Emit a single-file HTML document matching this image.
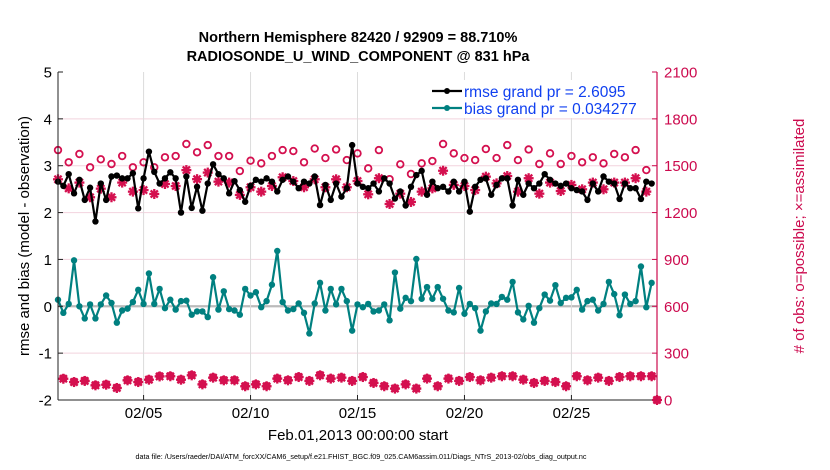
<!DOCTYPE html>
<html><head><meta charset="utf-8"><style>
body{margin:0;background:#fff;width:830px;height:470px;overflow:hidden}
svg{display:block;font-family:"Liberation Sans",sans-serif}
</style></head><body>
<svg id="chart" width="830" height="470" viewBox="0 0 830 470" xmlns="http://www.w3.org/2000/svg">
<g id="grid"></g>
<g id="series"></g>
<g id="axes"></g>
<text x="358" y="42" text-anchor="middle" font-size="14.5" font-weight="bold">Northern Hemisphere 82420 / 92909 = 88.710%</text>
<text x="358" y="61" text-anchor="middle" font-size="14.5" font-weight="bold">RADIOSONDE_U_WIND_COMPONENT @ 831 hPa</text>
<text transform="translate(29,236) rotate(-90)" text-anchor="middle" font-size="15">rmse and bias (model - observation)</text>
<text transform="translate(804,236) rotate(-90)" text-anchor="middle" font-size="15" fill="#cc0a4e"># of obs: o=possible; ×=assimilated</text>
<text x="358" y="440" text-anchor="middle" font-size="15">Feb.01,2013 00:00:00 start</text>
<text x="361" y="459" text-anchor="middle" font-size="7.2">data file: /Users/raeder/DAI/ATM_forcXX/CAM6_setup/f.e21.FHIST_BGC.f09_025.CAM6assim.011/Diags_NTrS_2013-02/obs_diag_output.nc</text>
<g id="legend">
<rect x="425" y="80" width="225" height="38" fill="#fff"/>
<g>
<line x1="432" y1="91" x2="462" y2="91" stroke="#000" stroke-width="2.2"/><circle cx="447" cy="91" r="3" fill="#000"/>
<text x="464" y="97" font-size="15.5" fill="#1040f0">rmse grand pr = 2.6095</text></g>
<g>
<line x1="432" y1="108" x2="462" y2="108" stroke="#008080" stroke-width="2.2"/><circle cx="447" cy="108" r="3" fill="#008080"/>
<text x="464" y="114" font-size="15.5" fill="#1040f0">bias grand pr = 0.034277</text></g>
</g>
</svg>
<script>
// ---- data (6-hourly from Feb 1 00Z) ----
const xTickDays = [5, 10, 15, 20, 25];
const xTickLabels = ["02/05", "02/10", "02/15", "02/20", "02/25"];
const leftTicks = [-2, -1, 0, 1, 2, 3, 4, 5];
const rightTicks = [0, 300, 600, 900, 1200, 1500, 1800, 2100];
const rmse = [2.66,2.57,2.82,2.41,2.70,2.27,2.53,1.81,2.62,2.27,2.77,2.79,2.73,2.73,2.84,2.09,2.73,3.30,2.87,2.62,2.73,2.86,2.73,2.00,2.77,2.10,2.55,2.04,2.62,3.03,
2.82,2.73,2.41,2.67,2.48,2.23,2.57,2.70,2.66,2.73,2.66,2.45,2.70,2.77,2.66,2.52,2.66,2.62,2.77,2.16,2.59,2.27,2.62,2.34,2.52,3.44,2.62,2.55,
2.52,2.62,2.45,2.73,2.62,2.30,2.45,2.15,2.55,2.80,2.89,2.38,2.66,2.52,2.55,2.45,2.66,2.45,2.66,2.02,2.55,2.70,2.73,2.38,2.59,2.73,2.73,2.15,
2.70,2.38,2.62,2.52,2.62,2.82,2.70,2.62,2.57,2.62,2.52,2.48,2.45,2.27,2.62,2.45,2.77,2.66,2.62,2.29,2.62,2.52,2.52,2.29,2.66,2.62];
const bias = [0.14,-0.14,0.05,0.98,0.00,-0.26,0.04,-0.26,0.04,0.23,0.07,-0.35,-0.09,-0.05,0.09,0.35,0.05,0.70,0.05,0.37,-0.04,0.14,-0.07,0.11,0.12,-0.18,-0.11,-0.11,-0.23,0.62,
-0.07,0.32,-0.06,-0.09,-0.18,0.37,0.23,0.30,-0.02,0.11,0.46,1.18,0.09,-0.09,-0.06,0.06,-0.14,-0.58,0.06,0.50,-0.09,0.37,0.04,0.37,0.11,-0.52,0.04,-0.02,
0.05,-0.11,-0.09,0.04,-0.30,0.72,-0.05,0.18,0.11,1.01,0.16,0.41,0.16,0.41,0.16,-0.09,-0.13,0.39,-0.16,0.05,-0.04,-0.52,-0.11,0.06,0.05,0.20,0.14,0.52,
-0.13,-0.28,0.01,-0.35,-0.04,0.25,0.12,0.45,0.07,0.18,0.19,0.35,-0.07,0.11,0.14,-0.09,0.05,0.52,0.26,-0.19,0.25,0.05,0.11,0.85,-0.02,0.50];
// obs counts at 00Z/12Z (even steps, incl. final step) and at 06Z/18Z (odd steps)
const possibleMain = [1600,1522,1575,1490,1541,1511,1562,1490,1522,1490,1554,1562,1639,1586,1632,
1562,1562,1466,1532,1515,1562,1600,1594,1522,1610,1549,1604,1536,1579,
1483,1600,1414,1509,1447,1515,1530,1639,1579,1549,1536,1607,1549,1632,
1536,1604,1511,1579,1511,1562,1522,1554,1515,1575,1554,1600,1472,0];
const assimMain = [1413,1355,1392,1298,1353,1298,1392,1334,1344,1319,1383,1370,1472,1414,1456,
1398,1392,1313,1362,1334,1370,1426,1402,1362,1413,1362,1413,1362,1402,
1317,1420,1255,1321,1268,1334,1355,1468,1377,1370,1344,1430,1387,1434,
1334,1420,1321,1392,1338,1377,1349,1392,1349,1392,1392,1420,1334,0];
const possibleOff = [139,117,124,96,100,79,128,117,132,154,154,132,160,102,145,128,128,90,
102,90,139,128,149,124,160,139,145,124,149,111,90,75,102,75,139,90,139,124,
149,128,145,154,154,132,111,124,117,90,154,128,145,124,149,154,154,154];
const assimOff = [136,115,122,94,98,77,126,115,130,151,152,130,158,100,143,126,126,88,
100,88,137,126,147,122,158,137,143,122,147,109,88,73,100,73,137,88,137,122,
147,126,143,152,152,130,109,122,115,88,152,126,143,122,147,152,152,152];

// ---- scales ----
const X0 = 58, X1 = 657, YT = 72, YB = 400;
const xOfStep = i => X0 + (i * 0.25) * (X1 - X0) / 28;
const xOfDay = d => X0 + (d - 1) * (X1 - X0) / 28;
const yL = v => YB - (v + 2) * (YB - YT) / 7;
const yR = c => YB - c * (YB - YT) / 2100;
const NS = "http://www.w3.org/2000/svg";
function mk(tag, attrs, parent) { const e = document.createElementNS(NS, tag); for (const k in attrs) e.setAttribute(k, attrs[k]); parent.appendChild(e); return e; }
const grid = document.getElementById('grid'), ser = document.getElementById('series'), ax = document.getElementById('axes');

mk('rect', {x: X0, y: YT, width: X1 - X0, height: YB - YT, fill: '#fff'}, grid);
leftTicks.forEach(v => {
  if (v === -2 || v === 5) return;
  const l = mk('line', {x1: X0, x2: X1, y1: yL(v), y2: yL(v), stroke: v === 0 ? '#bbbbbb' : '#f2d3de', 'stroke-width': v === 0 ? 2.2 : 1}, grid);
  
  
});
xTickDays.forEach(d => {
  const l = mk('line', {x1: xOfDay(d), x2: xOfDay(d), y1: YT, y2: YB, stroke: '#dcdcdc', 'stroke-width': 1}, grid);
  
  
});

// obs markers
function star(x, y, parent) {
  const g = mk('g', {stroke: '#d4104f', 'stroke-width': 2.3}, parent);
  
  
  const r = 5, d = 3.6;
  mk('line', {x1: x - r, x2: x + r, y1: y, y2: y}, g);
  mk('line', {x1: x, x2: x, y1: y - r, y2: y + r}, g);
  mk('line', {x1: x - d, x2: x + d, y1: y - d, y2: y + d}, g);
  mk('line', {x1: x - d, x2: x + d, y1: y + d, y2: y - d}, g);
}
function ring(x, y, parent) {
  const c = mk('circle', {cx: x, cy: y, r: 3.3, fill: 'none', stroke: '#d4104f', 'stroke-width': 1.8}, parent);
  
  
}
possibleMain.forEach((c, k) => ring(xOfStep(2 * k), yR(c), ser));
possibleOff.forEach((c, k) => ring(xOfStep(2 * k + 1), yR(c), ser));
assimMain.forEach((c, k) => star(xOfStep(2 * k), yR(c), ser));
assimOff.forEach((c, k) => star(xOfStep(2 * k + 1), yR(c), ser));

function lineSeries(vals, color, name) {
  const g = mk('g', {}, ser);
  
  
  mk('polyline', {points: vals.map((v, i) => xOfStep(i) + ',' + yL(v)).join(' '), fill: 'none', stroke: color, 'stroke-width': 2.2, 'stroke-linejoin': 'round'}, g);
  vals.forEach((v, i) => {
    const c = mk('circle', {cx: xOfStep(i), cy: yL(v), r: 3.2, fill: color}, g);
    
    
  });
}
lineSeries(bias, '#008080', 'bias-series');
lineSeries(rmse, '#000000', 'rmse-series');

// axes
mk('line', {x1: X0, x2: X0, y1: YT, y2: YB, stroke: '#222', 'stroke-width': 1}, ax);
mk('line', {x1: X0, x2: X1, y1: YB, y2: YB, stroke: '#222', 'stroke-width': 1}, ax);
mk('line', {x1: X1, x2: X1, y1: YT, y2: YB, stroke: '#cc0a4e', 'stroke-width': 1.2}, ax);
leftTicks.forEach(v => {
  mk('line', {x1: X0, x2: X0 + 5, y1: yL(v), y2: yL(v), stroke: '#222'}, ax);
  const t = mk('text', {x: X0 - 6, y: yL(v) + 5.5, 'text-anchor': 'end', 'font-size': 15}, ax);
  
  
  t.textContent = v;
});
rightTicks.forEach(c => {
  mk('line', {x1: X1 - 5, x2: X1, y1: yR(c), y2: yR(c), stroke: '#cc0a4e'}, ax);
  const t = mk('text', {x: X1 + 7, y: yR(c) + 5.5, 'font-size': 15, fill: '#cc0a4e'}, ax);
  
  
  t.textContent = c;
});
xTickDays.forEach((d, k) => {
  mk('line', {x1: xOfDay(d), x2: xOfDay(d), y1: YB, y2: YB - 5, stroke: '#222'}, ax);
  const t = mk('text', {x: xOfDay(d), y: 418, 'text-anchor': 'middle', 'font-size': 15}, ax);
  
  
  t.textContent = xTickLabels[k];
});
</script>
</body></html>
